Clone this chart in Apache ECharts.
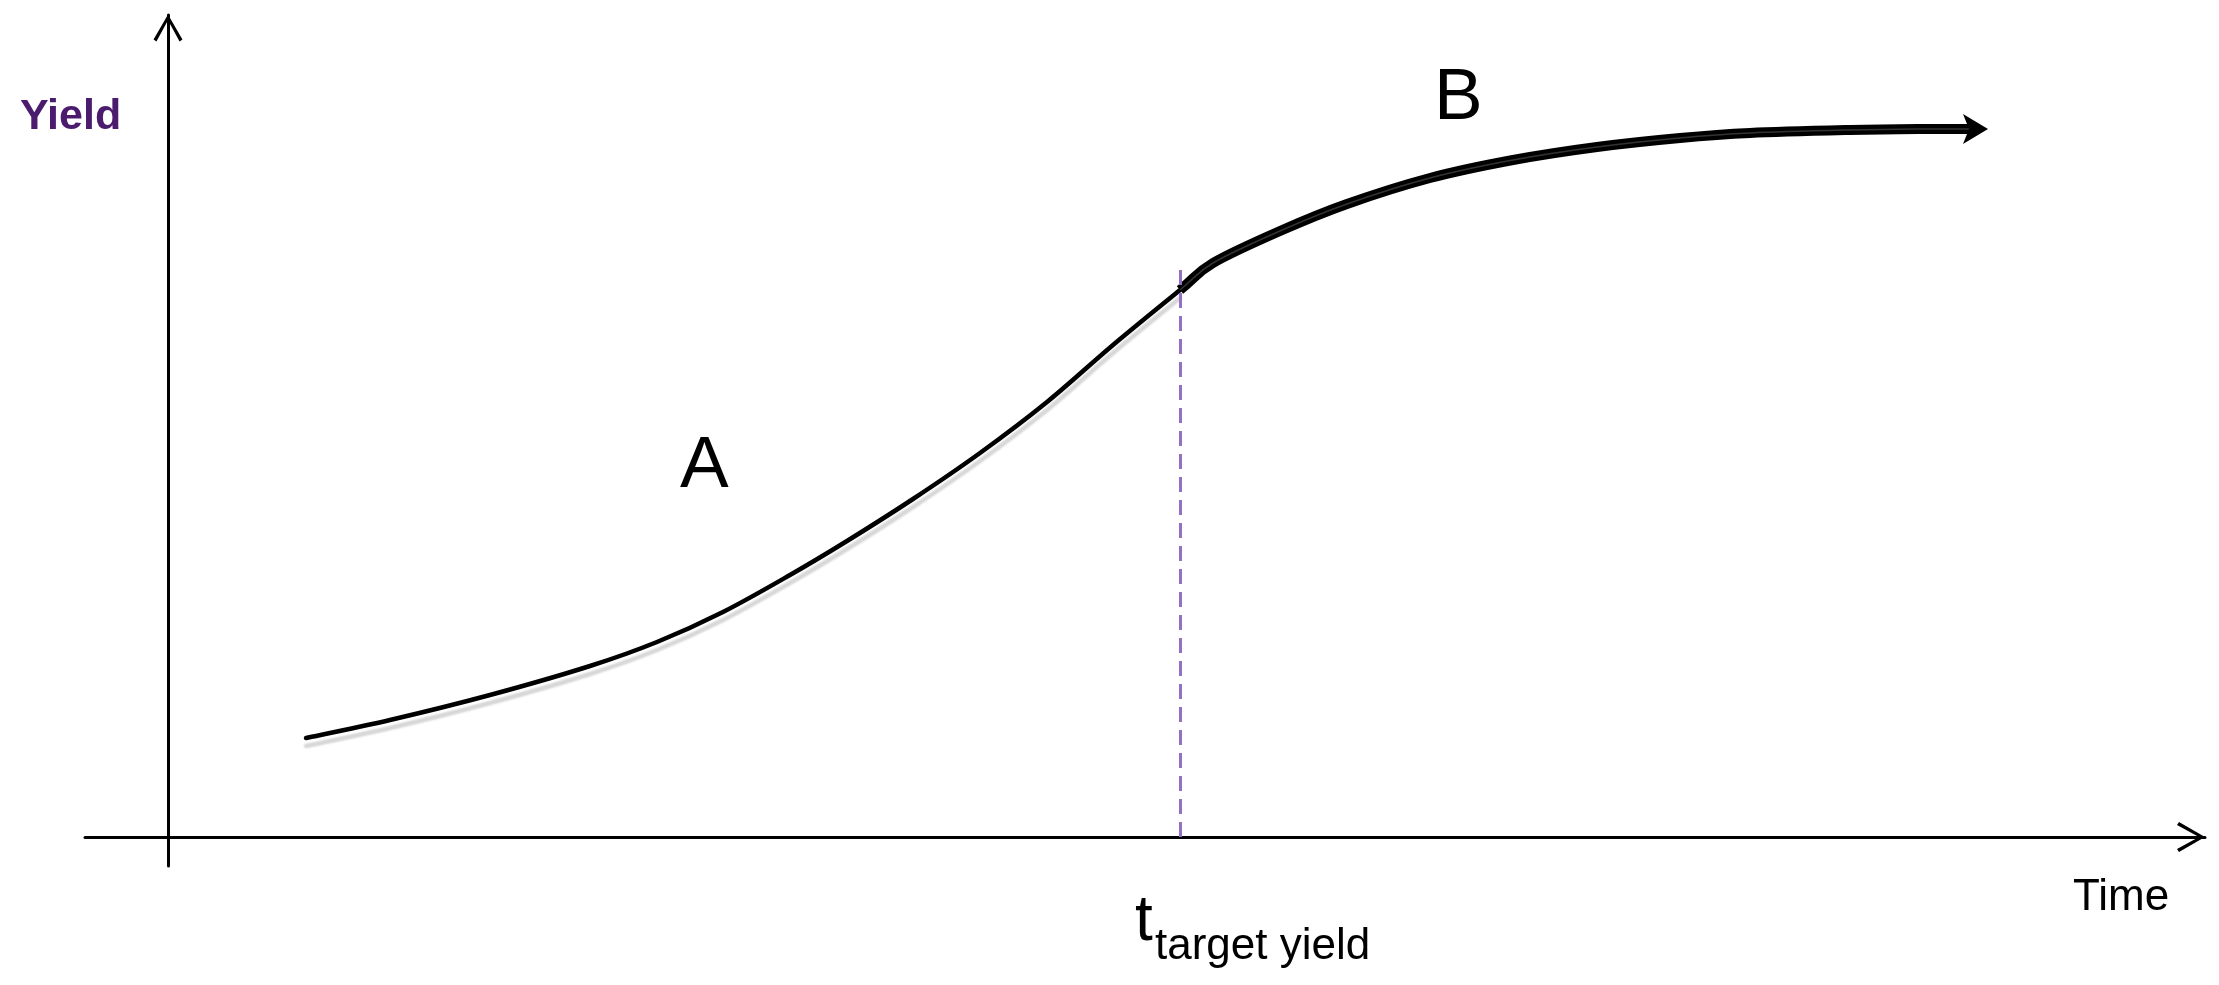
<!DOCTYPE html>
<html>
<head>
<meta charset="utf-8">
<script src="https://cdn.jsdelivr.net/npm/echarts@6/dist/echarts.min.js"></script>
<style>
html,body{margin:0;padding:0;background:#fff;}
#chart{width:2219px;height:985px;}
</style>
</head>
<body>
<div id="chart"></div>
<script>
// ---- data (conceptual units) ----
const curveA_x = [1.38, 2.22, 3.22, 4.22, 4.89, 5.55, 6.22, 6.79, 7.45, 8.12, 8.79, 9.45, 10.12];
const curveA_y = [0.99, 1.17, 1.42, 1.71, 1.95, 2.25, 2.62, 2.96, 3.38, 3.84, 4.35, 4.92, 5.47];
const curveB_x = [10.12, 10.45, 11.12, 11.79, 12.62, 13.45, 14.29, 15.12, 15.82, 16.82, 17.50, 18.07];
const curveB_y = [5.47, 5.74, 6.06, 6.33, 6.59, 6.77, 6.90, 6.99, 7.04, 7.07, 7.08, 7.08];
const targetTime = 10.12;
const targetLineTop = 5.67;
const xRange = [-0.83, 20.37];
const yRange = [-0.29, 8.22];
const labels = { y: 'Yield', x: 'Time', a: 'A', b: 'B', t: 't', tSub: 'target yield' };

const zip = (xs, ys) => xs.map((x, i) => [x, ys[i]]);
const dataA = zip(curveA_x, curveA_y);
const dataB = zip(curveB_x, curveB_y);
const endPt = dataB[dataB.length - 1];
const allPts = dataA.concat(dataB.slice(1));
const nSegA = dataA.length - 1;

const FONT = '"Liberation Sans", Arial, sans-serif';
const chevron = 'path://M0,26 L15,0 L30,26 L27,28 L15,6 L3,28 Z';

// Catmull-Rom spline through pixel points (converted by the axes)
function buildPaths(api) {
  const P = allPts.map(p => api.coord(p));
  const segs = [];
  for (let i = 0; i < P.length - 1; i++) {
    const p0 = P[i - 1] || P[i], p1 = P[i], p2 = P[i + 1], p3 = P[i + 2] || P[i + 1];
    const c1 = [p1[0] + (p2[0] - p0[0]) / 6, p1[1] + (p2[1] - p0[1]) / 6];
    const c2 = [p2[0] - (p3[0] - p1[0]) / 6, p2[1] - (p3[1] - p1[1]) / 6];
    segs.push({ p1, c1, c2, p2 });
  }
  const toD = list => {
    let d = 'M' + list[0].p1[0] + ',' + list[0].p1[1];
    list.forEach(s => { d += ' C' + s.c1.join(',') + ' ' + s.c2.join(',') + ' ' + s.p2.join(','); });
    return d;
  };
  // arrow head at the end, oriented along the end tangent
  const last = segs[segs.length - 1];
  const e = last.p2;
  let dx = e[0] - last.c2[0], dy = e[1] - last.c2[1];
  const len = Math.hypot(dx, dy) || 1; dx /= len; dy /= len;
  const px = -dy, py = dx;
  const tip = [e[0] + dx * 13, e[1] + dy * 13];
  const base = [e[0] - dx * 12, e[1] - dy * 12];
  const notch = [e[0] - dx * 6, e[1] - dy * 6];
  const head = [tip, [base[0] + px * 15, base[1] + py * 15], notch, [base[0] - px * 15, base[1] - py * 15]];
  return { a: toD(segs.slice(0, nSegA)), b: toD(segs.slice(nSegA)), head };
}

const chart = echarts.init(document.getElementById('chart'), null, { renderer: 'canvas' });
chart.setOption({
  backgroundColor: '#ffffff',
  animation: false,
  grid: { left: 85, right: 14, top: 15, bottom: 119, containLabel: false },
  xAxis: {
    type: 'value', min: xRange[0], max: xRange[1],
    axisLine: { show: true, onZero: true, lineStyle: { color: '#000', width: 3 },
      symbol: ['none', chevron], symbolSize: [30, 28], symbolOffset: [0, -14] },
    axisTick: { show: false }, axisLabel: { show: false }, splitLine: { show: false }
  },
  yAxis: {
    type: 'value', min: yRange[0], max: yRange[1],
    axisLine: { show: true, onZero: true, lineStyle: { color: '#000', width: 3 },
      symbol: ['none', chevron], symbolSize: [30, 27], symbolOffset: [0, -13] },
    axisTick: { show: false }, axisLabel: { show: false }, splitLine: { show: false }
  },
  series: [
    {
      type: 'line', data: [[targetTime, 0]], symbol: 'none', lineStyle: { width: 0 }, silent: true, z: 2,
      markLine: {
        silent: true, symbol: ['none', 'none'], label: { show: false },
        lineStyle: { color: '#9470c4', width: 3, type: [15, 8] },
        data: [[{ coord: [targetTime, 0] }, { coord: [targetTime, targetLineTop] }]]
      }
    },
    {
      type: 'custom', data: [endPt], z: 4, silent: true,
      renderItem: function (params, api) {
        const d = buildPaths(api);
        return {
          type: 'group',
          children: [
            { type: 'path', shape: { pathData: d.a },
              style: { fill: null, stroke: '#000', lineWidth: 4.5, lineCap: 'round', lineJoin: 'round',
                shadowColor: 'rgba(0,0,0,0.16)', shadowBlur: 2, shadowOffsetY: 8 } },
            { type: 'path', shape: { pathData: d.b },
              style: { fill: null, stroke: '#000', lineWidth: 10, lineCap: 'butt', lineJoin: 'round' } },
            { type: 'path', shape: { pathData: d.b },
              style: { fill: null, stroke: '#333', lineWidth: 1.5, lineCap: 'butt', lineJoin: 'round' } },
            { type: 'polygon', shape: { points: d.head }, style: { fill: '#000', stroke: null } }
          ]
        };
      }
    }
  ],
  graphic: [
    { type: 'text', left: 20, top: 96, style: { text: labels.y, font: 'bold 43px ' + FONT, fill: '#4B1C6E' } },
    { type: 'text', left: 2073, top: 876, style: { text: labels.x, font: '44px ' + FONT, fill: '#000' } },
    { type: 'text', left: 680, top: 430, style: { text: labels.a, font: '73px ' + FONT, fill: '#000' } },
    { type: 'text', left: 1434, top: 62, style: { text: labels.b, font: '73px ' + FONT, fill: '#000' } },
    { type: 'text', left: 1135, top: 890, style: { text: labels.t, font: '64px ' + FONT, fill: '#000' } },
    { type: 'text', left: 1155, top: 925, style: { text: labels.tSub, font: '44px ' + FONT, fill: '#000' } }
  ]
});
</script>
</body>
</html>
